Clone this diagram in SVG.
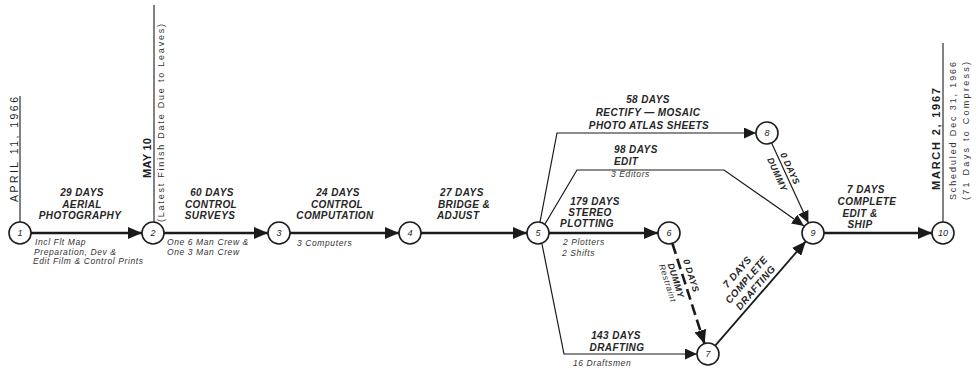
<svg xmlns="http://www.w3.org/2000/svg" width="976" height="370" viewBox="0 0 976 370">
<defs>
<marker id="ah" markerUnits="userSpaceOnUse" markerWidth="15" markerHeight="12" refX="14" refY="6" orient="auto">
<path d="M0,0 L14,6 L0,12 Z" fill="#1a1a1a"/>
</marker>
<marker id="ahs" markerUnits="userSpaceOnUse" markerWidth="13" markerHeight="11" refX="12" refY="5.5" orient="auto">
<path d="M0,0 L12,5.5 L0,11 Z" fill="#1a1a1a"/>
</marker>
<style>
text{font-family:"Liberation Sans",Arial,sans-serif;fill:#1e1e1e}
.h{font-size:10px;font-weight:bold;font-style:italic;letter-spacing:0.4px;fill:#262626}
.hm{text-anchor:middle}
.s{font-size:8.5px;font-style:italic;letter-spacing:0.6px;fill:#333}
.d{font-size:10.5px}
.db{font-size:11px;font-weight:bold}
.ds{font-size:9px;fill:#333}
.n{font-size:9px;font-style:italic;text-anchor:middle}
.node circle{fill:#fff;stroke:#1e1e1e;stroke-width:1.6}
.thick{stroke:#1a1a1a;stroke-width:2.6;fill:none}
.med{stroke:#1a1a1a;stroke-width:1.8;fill:none}
.thin{stroke:#1a1a1a;stroke-width:1.2;fill:none}
.dash{stroke:#1a1a1a;stroke-width:2.6;fill:none;stroke-dasharray:11 5}
.vl{stroke:#1a1a1a;stroke-width:1.1;fill:none}
</style>
</defs>
<rect width="976" height="370" fill="#fff"/>

<g id="connectors">
<path class="thick" d="M31,233 L142,233" marker-end="url(#ah)"/>
<path class="thick" d="M164,233 L268,233" marker-end="url(#ah)"/>
<path class="thick" d="M290,233 L399,233" marker-end="url(#ah)"/>
<path class="thick" d="M421,233 L527,233" marker-end="url(#ah)"/>
<path class="thick" d="M549,233 L658,233" marker-end="url(#ah)"/>
<path class="thick" d="M824,233 L932,233" marker-end="url(#ah)"/>
<path class="thin" d="M540,222 L557,133 L756,133" marker-end="url(#ahs)"/>
<path class="thin" d="M545,224 L577,170 L724,170 L804,226" marker-end="url(#ahs)"/>
<path class="thin" d="M542,244 L564,354 L697,354" marker-end="url(#ahs)"/>
<path class="thin" d="M771.6,143 L808.4,223" marker-end="url(#ahs)"/>
<path class="dash" d="M672.4,243.5 L704.6,344" marker-end="url(#ah)"/>
<path class="med" d="M715.2,345.7 L805.8,241.3" marker-end="url(#ah)"/>
<path class="vl" d="M20,222 L20,96"/>
<path class="vl" d="M154,222 L154,5"/>
<path class="vl" d="M943,222 L943,43"/>
</g>

<g id="labels">
<text class="h hm" x="82" y="196">29 DAYS</text>
<text class="h hm" x="82" y="207.5">AERIAL</text>
<text class="h hm" x="80" y="219">PHOTOGRAPHY</text>
<text class="s" x="35" y="245">Incl Flt Map</text>
<text class="s" x="34" y="254.5">Preparation, Dev &amp;</text>
<text class="s" x="33" y="264">Edit Film &amp; Control Prints</text>

<text class="h hm" x="212" y="196">60 DAYS</text>
<text class="h hm" x="211" y="207.5">CONTROL</text>
<text class="h hm" x="210" y="219">SURVEYS</text>
<text class="s" x="167" y="245">One 6 Man Crew &amp;</text>
<text class="s" x="167" y="254.5">One 3 Man Crew</text>

<text class="h hm" x="338" y="196">24 DAYS</text>
<text class="h hm" x="337" y="207.5">CONTROL</text>
<text class="h hm" x="335" y="219">COMPUTATION</text>
<text class="s" x="297" y="246">3 Computers</text>

<text class="h" x="440" y="196">27 DAYS</text>
<text class="h" x="438" y="207.5">BRIDGE &amp;</text>
<text class="h" x="437" y="219">ADJUST</text>

<text class="h hm" x="648" y="103">58 DAYS</text>
<text class="h hm" x="648" y="116">RECTIFY — MOSAIC</text>
<text class="h hm" x="649" y="129">PHOTO ATLAS SHEETS</text>

<text class="h" x="614" y="153">98 DAYS</text>
<text class="h" x="614" y="165">EDIT</text>
<text class="s" x="611" y="177">3 Editors</text>

<text class="h hm" x="595" y="205">179 DAYS</text>
<text class="h hm" x="590" y="216">STEREO</text>
<text class="h hm" x="587" y="227">PLOTTING</text>
<text class="s" x="563" y="245">2 Plotters</text>
<text class="s" x="562" y="256">2 Shifts</text>

<text class="h hm" x="616" y="339">143 DAYS</text>
<text class="h hm" x="617" y="351">DRAFTING</text>
<text class="s" x="573" y="366">16 Draftsmen</text>

<text class="h hm" x="866" y="193">7 DAYS</text>
<text class="h hm" x="867" y="205">COMPLETE</text>
<text class="h hm" x="860" y="216.5">EDIT &amp;</text>
<text class="h hm" x="860" y="228">SHIP</text>

<g transform="translate(784.5,171) rotate(65.3)">
<text class="h hm" x="0" y="-3" style="font-size:9px">0 DAYS</text>
<text class="h hm" x="0" y="11" style="font-size:9px">DUMMY</text>
</g>
<g transform="translate(683.4,278) rotate(72.3)">
<text class="h hm" x="0" y="-5" style="font-size:9px">0 DAYS</text>
<text class="h hm" x="0" y="11" style="font-size:9px">DUMMY</text>
<text class="s" x="0" y="19.5" text-anchor="middle">Restraint</text>
</g>
<g transform="translate(761.5,292.8) rotate(-49.3)">
<text class="h hm" x="0" y="-28.5">7 DAYS</text>
<text class="h hm" x="0" y="-16.5">COMPLETE</text>
<text class="h hm" x="0" y="-4.5">DRAFTING</text>
</g>

<text class="d" transform="translate(18,202) rotate(-90)" textLength="105" lengthAdjust="spacing">APRIL 11, 1966</text>
<text class="db" transform="translate(151,178) rotate(-90)" textLength="40" lengthAdjust="spacing">MAY 10</text>
<text class="ds" transform="translate(164,222) rotate(-90)" textLength="198" lengthAdjust="spacing">(Latest Finish Date Due to Leaves)</text>
<text class="db" transform="translate(940,190) rotate(-90)" textLength="102" lengthAdjust="spacing">MARCH 2, 1967</text>
<text class="ds" transform="translate(956,200) rotate(-90)" textLength="138" lengthAdjust="spacing">Scheduled Dec 31, 1966</text>
<text class="ds" transform="translate(969,200) rotate(-90)" textLength="138" lengthAdjust="spacing">(71 Days to Compress)</text>
</g>

<g id="node1" class="node"><circle cx="20" cy="233" r="11"/><text class="n" x="20" y="236">1</text></g>
<g id="node2" class="node"><circle cx="153" cy="233" r="11"/><text class="n" x="153" y="236">2</text></g>
<g id="node3" class="node"><circle cx="279" cy="233" r="11"/><text class="n" x="279" y="236">3</text></g>
<g id="node4" class="node"><circle cx="410" cy="233" r="11"/><text class="n" x="410" y="236">4</text></g>
<g id="node5" class="node"><circle cx="538" cy="233" r="11"/><text class="n" x="538" y="236">5</text></g>
<g id="node6" class="node"><circle cx="669" cy="233" r="11"/><text class="n" x="669" y="236">6</text></g>
<g id="node7" class="node"><circle cx="708" cy="354" r="11"/><text class="n" x="708" y="357">7</text></g>
<g id="node8" class="node"><circle cx="767" cy="133" r="11"/><text class="n" x="767" y="136">8</text></g>
<g id="node9" class="node"><circle cx="813" cy="233" r="11"/><text class="n" x="813" y="236">9</text></g>
<g id="node10" class="node"><circle cx="943" cy="233" r="11"/><text class="n" x="943" y="236">10</text></g>
</svg>
